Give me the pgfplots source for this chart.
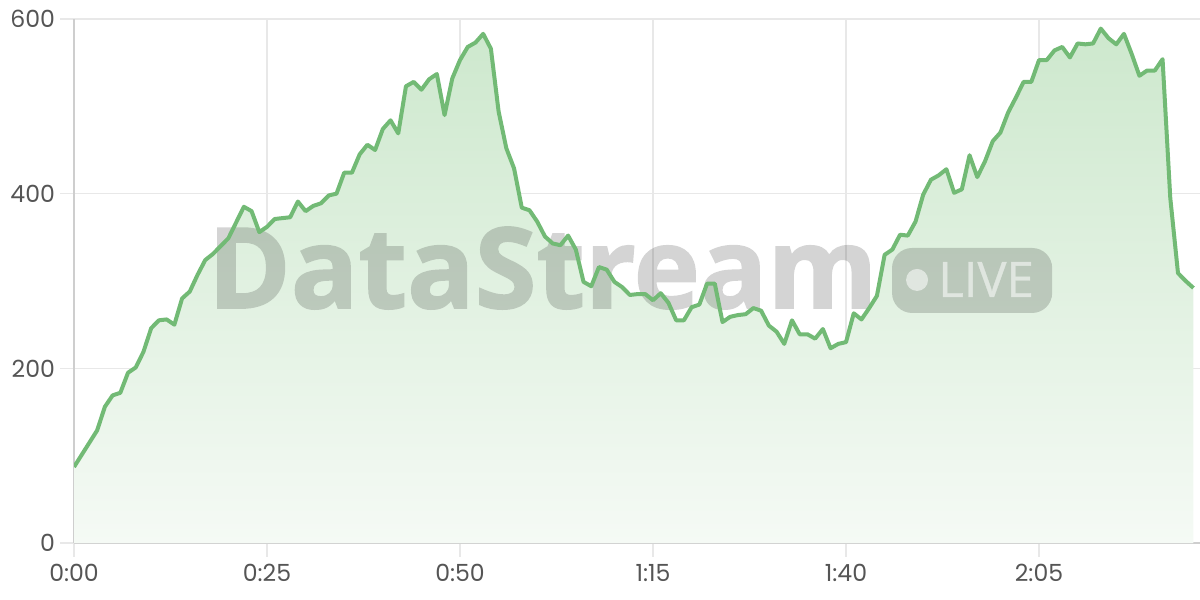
\documentclass[border=0pt]{standalone}
\usepackage{pgfplots}
\usepackage{pgfplotstable}
\pgfplotsset{compat=1.18}
\usepackage{fontspec}
\setmainfont{Poppins}
\newfontfamily\wmfont{Open Sans}[BoldFeatures={FakeBold=1.5}]
\newfontfamily\livefont{Open Sans}[FakeBold=0.6]
\definecolor{linegreen}{RGB}{114,186,117}
\definecolor{gridc}{RGB}{232,232,232}
\definecolor{axc}{RGB}{206,206,206}
\definecolor{tickc}{RGB}{85,85,85}
\definecolor{filltop}{RGB}{205,232,205}
\definecolor{fillbot}{RGB}{245,250,245}
\pgfplotstableread{
t v
0 87
1 101
2 115
3 129
4 156
5 169
6 172
7 195
8 201
9 219
10 246
11 255
12 256
13 250
14 280
15 288
16 307
17 324
18 331
19 340
20 349
21 367
22 385
23 380
24 356
25 362
26 371
27 372
28 373
29 391
30 380
31 386
32 389
33 398
34 400
35 424
36 424
37 445
38 456
39 450
40 474
41 484
42 469
43 523
44 528
45 519
46 531
47 537
48 490
49 532
50 553
51 568
52 573
53 583
54 566
55 494
56 452
57 429
58 384
59 381
60 368
61 351
62 343
63 341
64 352
65 336
66 299
67 294
68 316
69 313
70 299
71 293
72 284
73 285
74 285
75 278
76 286
77 275
78 255
79 255
80 270
81 273
82 297
83 297
84 253
85 259
86 261
87 262
88 269
89 266
90 249
91 242
92 228
93 255
94 239
95 239
96 234
97 245
98 223
99 228
100 230
101 263
102 256
103 269
104 283
105 330
106 336
107 353
108 352
109 368
110 399
111 416
112 421
113 428
114 401
115 405
116 444
117 419
118 437
119 460
120 470
121 493
122 510
123 528
124 528
125 553
126 553
127 564
128 568
129 556
130 572
131 571
132 572
133 589
134 578
135 571
136 583
137 560
138 535
139 541
140 541
141 554
142 395
143 309
144 300
145 292
}\datatable
\begin{document}
\begin{tikzpicture}
\useasboundingbox (0,0) rectangle (600pt,300pt);
\begin{axis}[
  at={(37pt,28.5pt)}, anchor=south west,
  width=563pt, height=262pt, scale only axis,
  xmin=0, xmax=145.85, ymin=0, ymax=600,
  xtick={0,25,50,75,100,125},
  xticklabels={0:00,0:25,0:50,1:15,1:40,2:05},
  ytick={0,200,400,600},
  grid=major,
  major grid style={draw=gridc, line width=0.75pt},
  axis x line*=bottom, axis y line*=left,
  axis line style={draw=axc, line width=0.75pt},
  tick align=outside, major tick length=7pt,
  tick style={draw=gridc, line width=0.75pt},
  ticklabel style={font=\fontsize{11.8}{14}\selectfont, text=tickc},
  yticklabel style={xshift=1pt},
  /pgf/number format/assume math mode=true,
]
\addplot[draw=none, top color=filltop, bottom color=fillbot] table[x=t,y=v] {\datatable} \closedcycle;
\begin{scope}[transparency group, opacity=0.17]
\node[anchor=base west, inner sep=0pt, font=\wmfont\bfseries\fontsize{56}{60}\selectfont, text=black] at (axis cs:17.3,269) {DataStream};
\end{scope}
\fill[black, opacity=0.17, rounded corners=10pt] (axis cs:105.96,263.4) rectangle (axis cs:126.7,337.8);
\begin{scope}[transparency group, opacity=0.55]
\fill[white] (axis cs:109.2,301.2) circle[radius=5.5pt];
\node[anchor=base west, inner sep=0pt, font=\livefont\fontsize{24.5}{26}\selectfont, text=white] at (axis cs:111.9,281.7) {LIVE};
\end{scope}
\addplot[draw=linegreen, line width=2pt, line join=round] table[x=t,y=v] {\datatable};
\end{axis}
\end{tikzpicture}
\end{document}
